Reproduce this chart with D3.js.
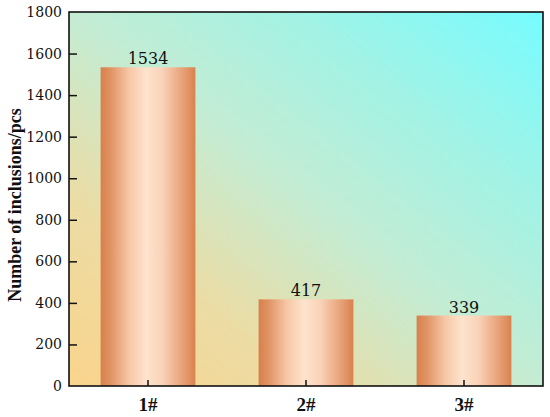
<!DOCTYPE html>
<html>
<head>
<meta charset="utf-8">
<title>Inclusions bar chart</title>
<script src="https://cdn.jsdelivr.net/npm/d3@7"></script>
<style>
  body { margin: 0; background: #fff; }
  svg text { fill: #111; }
</style>
</head>
<body>
<div id="chart"></div>
<script>
// data
var categories = ["1#", "2#", "3#"];
var counts = [1534, 417, 339];
var yTicks = [0, 200, 400, 600, 800, 1000, 1200, 1400, 1600, 1800];

var width = 550, height = 417;
var margin = {top: 12, right: 7, bottom: 31, left: 69};
var innerW = width - margin.left - margin.right;
var innerH = height - margin.top - margin.bottom;

var svg = d3.select("#chart").append("svg")
  .attr("width", width)
  .attr("height", height);

var defs = svg.append("defs");

// background gradient: orange bottom-left -> cyan top-right
var bg = defs.append("linearGradient")
  .attr("id", "bgGrad")
  .attr("x1", 0).attr("y1", 1).attr("x2", 1).attr("y2", 0);
bg.append("stop").attr("offset", "0%").attr("stop-color", "#fad48c");
bg.append("stop").attr("offset", "25%").attr("stop-color", "#ecdca4");
bg.append("stop").attr("offset", "50%").attr("stop-color", "#c4ecd3");
bg.append("stop").attr("offset", "75%").attr("stop-color", "#a0f3e6");
bg.append("stop").attr("offset", "100%").attr("stop-color", "#76fcff");

// bar gradient: dark copper edges, pale centre
var barGrad = defs.append("linearGradient")
  .attr("id", "barGrad")
  .attr("x1", 0).attr("y1", 0).attr("x2", 1).attr("y2", 0);
barGrad.append("stop").attr("offset", "0%").attr("stop-color", "#d8804c");
barGrad.append("stop").attr("offset", "10%").attr("stop-color", "#df9262");
barGrad.append("stop").attr("offset", "30%").attr("stop-color", "#f6c7a6");
barGrad.append("stop").attr("offset", "48%").attr("stop-color", "#fee3cd");
barGrad.append("stop").attr("offset", "65%").attr("stop-color", "#f9d3b9");
barGrad.append("stop").attr("offset", "85%").attr("stop-color", "#e9a57c");
barGrad.append("stop").attr("offset", "100%").attr("stop-color", "#d9824e");

var g = svg.append("g")
  .attr("transform", "translate(" + margin.left + "," + margin.top + ")");

g.append("rect")
  .attr("width", innerW)
  .attr("height", innerH)
  .attr("fill", "url(#bgGrad)");

var x = d3.scaleBand()
  .domain(categories)
  .range([0, innerW])
  .paddingInner(0.4)
  .paddingOuter(0.2);

var y = d3.scaleLinear()
  .domain([0, 1800])
  .range([innerH, 0]);

// bars
g.selectAll(".bar")
  .data(counts)
  .enter().append("rect")
    .attr("class", "bar")
    .attr("x", function (d, i) { return x(categories[i]); })
    .attr("y", function (d) { return y(d); })
    .attr("width", x.bandwidth())
    .attr("height", function (d) { return innerH - y(d); })
    .attr("fill", "url(#barGrad)");

// value labels
g.selectAll(".val")
  .data(counts)
  .enter().append("text")
    .attr("class", "val")
    .attr("x", function (d, i) { return x(categories[i]) + x.bandwidth() / 2; })
    .attr("y", function (d) { return y(d) - 3; })
    .attr("text-anchor", "middle")
    .style("font-family", "'DejaVu Serif', serif")
    .style("font-size", "16px")
    .text(function (d) { return d; });

// y axis, ticks pointing inward
var yAxis = g.append("g")
  .call(d3.axisLeft(y).tickValues(yTicks).tickFormat(d3.format("d"))
    .tickSize(-8).tickPadding(7));
yAxis.select(".domain").remove();
yAxis.selectAll("line").attr("stroke", "#111").attr("stroke-width", 1.5);
yAxis.selectAll("text")
  .style("font-family", "'DejaVu Serif', serif")
  .style("font-size", "14px");
yAxis.selectAll(".tick").filter(function (d) { return d === 1800 || d === 0; })
  .select("line").remove();

// x axis, ticks pointing up
var xAxis = g.append("g")
  .attr("transform", "translate(0," + innerH + ")")
  .call(d3.axisBottom(x).tickSize(-6).tickPadding(12));
xAxis.select(".domain").remove();
xAxis.selectAll("line").attr("stroke", "#111").attr("stroke-width", 1.5);
xAxis.selectAll("text")
  .style("font-family", "'Liberation Serif', serif")
  .style("font-weight", "bold")
  .style("font-size", "19px");

// frame
g.append("rect")
  .attr("width", innerW)
  .attr("height", innerH)
  .attr("fill", "none")
  .attr("stroke", "#111")
  .attr("stroke-width", 1.6);

// y title
svg.append("text")
  .attr("transform", "translate(21," + (margin.top + innerH / 2 + 6) + ") rotate(-90)")
  .attr("text-anchor", "middle")
  .style("font-family", "'Liberation Serif', serif")
  .style("font-weight", "bold")
  .style("font-size", "18px")
  .text("Number of inclusions/pcs");
</script>
</body>
</html>
